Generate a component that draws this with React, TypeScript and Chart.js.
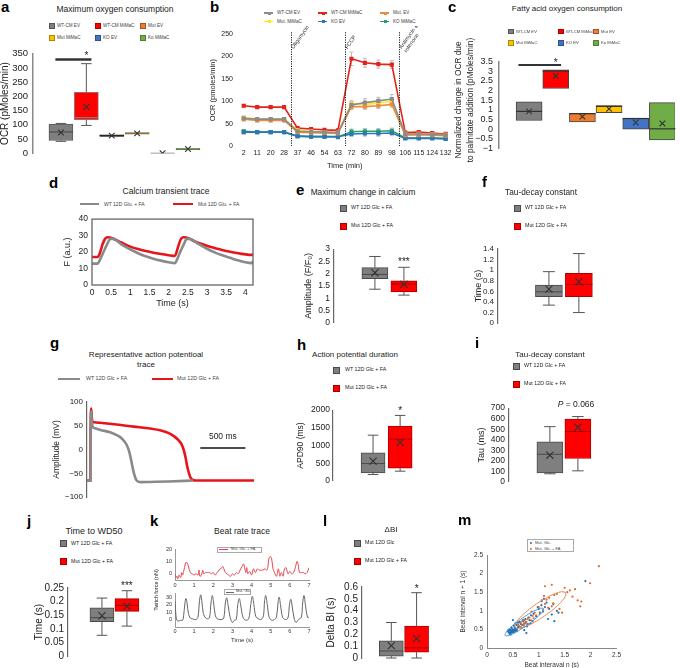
import React, { useEffect, useRef } from 'react';
import { Chart, registerables } from 'chart.js';
Chart.register(...registerables);

const FONT = '"Liberation Sans", Arial, Helvetica, sans-serif';
Chart.defaults.font.family = FONT;
Chart.defaults.color = '#222';

// ---------------- DATA ----------------
// a: Maximum oxygen consumption (box stats per group)
const aGroups = ['WT-CM EV', 'WT-CM MiMaC', 'Mut EV', 'Mut MiMaC', 'KO EV', 'Ko MiMaC'];
const aX = [1, 2, 3, 4, 5, 6];
const aMin = [42, 98, 59.5, 67.5, 0, 13];
const aQ1 = [45, 118, 59.5, 67.5, 0, 13];
const aMed = [75, 125, 62, 70, 0.5, 15];
const aQ3 = [103, 214, 64.5, 72.5, 1, 17];
const aMax = [105, 315, 64.5, 72.5, 1, 17];
const aMean = [73, 163, 62, 70, 0.5, 15];

// b: OCR time course
const bTimes = ['2', '11', '20', '28', '37', '46', '54', '63', '72', '80', '89', '98', '106', '115', '124', '132'];
const bWtEv = [62, 60, 60, 60, 33, 32, 31, 30, 92, 97, 101, 105, 27, 27, 26, 25];
const bWtMimac = [90, 87, 87, 87, 40, 38, 36, 35, 195, 186, 183, 182, 30, 31, 29, 27];
const bMutEv = [60, 57, 57, 57, 31, 30, 29, 28, 88, 88, 90, 93, 24, 25, 24, 23];
const bMutMimac = [63, 60, 60, 60, 35, 33, 31, 30, 95, 93, 96, 100, 27, 27, 26, 25];
const bKoEv = [31, 31, 31, 31, 22, 21, 21, 21, 27, 28, 28, 29, 17, 17, 17, 16];
const bKoMimac = [33, 31, 31, 31, 22, 21, 21, 20, 32, 33, 33, 34, 18, 18, 18, 17];
const bErrRed = [3, 3, 3, 3, 2, 2, 2, 2, 15, 10, 9, 9, 2, 2, 2, 2];
const bErrGray = [3, 3, 3, 3, 2, 2, 2, 2, 8, 9, 8, 10, 2, 2, 2, 2];
const bErrOther = [4, 3, 3, 3, 2, 2, 2, 2, 6, 6, 6, 6, 2, 2, 2, 2];
const bEventAt = [3.5, 7.5, 11.5];
const bEventLabels = [['Oligomycin'], ['FCCP'], ['Antimycin &', 'rotenone']];

// c: Fatty acid oxygen consumption
const cX = [1, 2, 3, 4, 5, 6];
const cQ1 = [0.45, 2.1, 0.38, 0.86, 0.0, -0.55];
const cMed = [0.92, 3.0, 0.8, 1.18, 0.55, 0.02];
const cQ3 = [1.42, 3.06, 0.82, 1.22, 0.58, 1.37];
const cMean = [0.92, 2.75, 0.65, 1.05, 0.35, 0.3];

// d: calcium transient trace
const dWtT = [0, 0.15, 0.2, 0.3, 0.4, 0.48, 0.55, 0.65, 0.75, 0.9, 1.05, 1.2, 1.4, 1.6, 1.8, 2.0, 2.16, 2.2, 2.3, 2.4, 2.47, 2.55, 2.65, 2.8, 3.0, 3.2, 3.4, 3.6, 3.8, 4.0, 4.17, 4.2];
const dWtF = [13, 13, 15, 20, 25, 28, 28, 26.8, 25, 22.8, 21, 19.3, 17.5, 16, 14.8, 13.8, 13.2, 14.5, 20, 25, 28, 28, 26.8, 24.6, 22, 19.8, 18, 16.5, 15, 13.8, 13.3, 14.5];
const dMutT = [0, 0.15, 0.2, 0.28, 0.35, 0.4, 0.47, 0.55, 0.7, 0.85, 1.0, 1.2, 1.4, 1.6, 1.8, 2.0, 2.16, 2.2, 2.27, 2.33, 2.39, 2.46, 2.55, 2.7, 2.9, 3.1, 3.3, 3.5, 3.7, 3.9, 4.1, 4.17, 4.2];
const dMutF = [17, 17, 19, 25, 28.3, 29, 28.8, 28.2, 26.5, 24.8, 23.3, 21.8, 20.6, 19.6, 18.8, 18.1, 17.6, 19.5, 25, 28.3, 29, 28.8, 28, 26.3, 24.6, 23, 21.8, 20.6, 19.7, 18.9, 18.3, 18.2, 19];

// e: max change in calcium
const eMin = [1.37, 1.13], eQ1 = [1.8, 1.26], eMed = [1.97, 1.58], eQ3 = [2.25, 1.71], eMax = [2.7, 2.26], eMean = [2.04, 1.57];
// f: tau decay (s)
const fMin = [0.34, 0.2], fQ1 = [0.5, 0.5], fMed = [0.59, 0.73], fQ3 = [0.715, 0.94], fMax = [0.97, 1.31], fMean = [0.64, 0.78];
// g: action potential trace
const gWtT = [0, 38, 42, 46, 52, 62, 80, 150, 256, 330, 368, 406, 444, 465, 481, 500, 519, 540, 556, 594, 700, 900, 1177];
const gWtV = [-65, -65, 40, 80, 62, 48, 45, 41, 36, 30, 26, 19, 8, -3, -15, -33, -49, -62, -66, -68.5, -68, -67, -65];
const gMutT = [0, 36, 40, 46, 52, 62, 79, 143, 300, 519, 700, 820, 900, 970, 1010, 1045, 1070, 1090, 1110, 1130, 1150, 1177, 1200, 1850];
const gMutV = [-65, -65, 40, 86, 70, 58, 57, 56, 53, 48, 44, 40, 35, 27, 20, 12, 0, -15, -35, -50, -60, -64, -65, -65];
const gScaleBarMs = 500;
// h: APD90 (ms)
const hMin = [180, 274], hQ1 = [226, 358], hMed = [490, 1180], hQ3 = [792, 1547], hMax = [1292, 1850], hMean = [557, 1085];
// i: tau (ms)
const iMin = [77, 105], iQ1 = [86, 222], iMed = [262, 478], iQ3 = [380, 596], iMax = [524, 620], iMean = [253, 518];
// j: time to WD50 (s)
const jMin = [0.076, 0.11], jQ1 = [0.126, 0.164], jMed = [0.141, 0.186], jQ3 = [0.177, 0.211], jMax = [0.213, 0.24], jMean = [0.148, 0.183];
// k: beat rate trace
const kFaT = [0, 0.05, 0.1, 0.15, 0.2, 0.3, 0.35, 0.4, 0.45, 0.5, 0.55, 0.62, 0.7, 0.8, 0.9, 1.0, 1.1, 1.2, 1.25, 1.3, 1.38, 1.45, 1.5, 1.6, 1.7, 1.8, 1.9, 2.0, 2.1, 2.2, 2.3, 2.45, 2.5, 2.6, 2.7, 2.8, 2.9, 3.0, 3.1, 3.2, 3.3, 3.4, 3.5, 3.58, 3.65, 3.7, 3.75, 3.8, 3.9, 4.0, 4.1, 4.2, 4.3, 4.4, 4.5, 4.6, 4.7, 4.8, 4.85, 4.9, 4.98, 5.05, 5.12, 5.2, 5.3, 5.4, 5.48, 5.55, 5.65, 5.7, 5.8, 5.9, 6.0, 6.1, 6.2, 6.3, 6.38, 6.45, 6.5, 6.6, 6.7, 6.8, 6.9, 7.0];
const kFaF = [0, -3, -2, -4, -1, -3, 1, -1, 2, 5, 9, 9, 6, 1, 0, -1, 0, -1, 3, -2, -1, 3, 0, 1, 1, 1, 0, 1, -1, 1, 3, 5, 6, 2, 0, -1, -2, 0, -1, 1, 0, 3, 6, 8, 4, 1, 5, 0, 2, -1, 4, 1, 4, 3, 3, 3, 4, 3, 5, 12, 14, 12, 4, 1, -2, 4, -2, 1, -2, 3, 5, 0, 2, 0, 1, 6, 10, 6, 1, 1, 1, 0, 1, 5];
const kGlcT = [0, 0.05, 0.1, 0.2, 0.3, 0.4, 0.45, 0.52, 0.57, 0.63, 0.7, 0.8, 0.9, 1.0, 1.1, 1.2, 1.28, 1.34, 1.4, 1.48, 1.6, 1.7, 1.8, 1.88, 1.95, 2.02, 2.1, 2.2, 2.35, 2.45, 2.55, 2.63, 2.7, 2.78, 2.88, 3.0, 3.1, 3.2, 3.28, 3.36, 3.44, 3.55, 3.7, 3.85, 3.96, 4.04, 4.12, 4.22, 4.35, 4.5, 4.62, 4.68, 4.74, 4.82, 4.92, 5.05, 5.2, 5.3, 5.38, 5.44, 5.52, 5.62, 5.75, 5.9, 5.98, 6.05, 6.12, 6.22, 6.32, 6.45, 6.6, 6.67, 6.74, 6.82, 6.92, 7.0];
const kGlcF = [25, 5, -1, -2, -1, -1, 5, 22, 28, 22, 8, 2, 1, 0, 0, 3, 25, 33, 25, 8, 2, 1, 2, 22, 32, 22, 6, 1, 0, 0, 2, 22, 29, 18, 3, -4, -1, 0, 20, 28, 18, 3, -1, 1, 20, 31, 20, 4, 1, 0, 5, 25, 32, 20, 3, -1, 0, 3, 22, 30, 18, 3, 0, 2, 20, 27, 18, 2, -4, 0, 3, 22, 32, 18, 3, 3];
// l: delta BI (s)
const lMin = [0, 0], lQ1 = [0.016, 0.05], lMed = [0.059, 0.086], lQ3 = [0.145, 0.27], lMax = [0.3, 0.552], lMean = [0.105, 0.164];
// m: Poincare plot
const mGlcX = [0.40, 0.42, 0.43, 0.44, 0.45, 0.45, 0.46, 0.47, 0.48, 0.48, 0.49, 0.50, 0.50, 0.51, 0.52, 0.53, 0.54, 0.55, 0.56, 0.58, 0.60, 0.41, 0.44, 0.47, 0.52, 0.57, 0.62, 0.65, 0.63, 0.68, 0.70, 0.72, 0.74, 0.75, 0.78, 0.80, 0.82, 0.85, 0.88, 0.90, 0.95, 1.00, 1.02, 1.05, 1.08, 1.10, 1.12, 1.15, 1.20, 1.25, 1.28, 1.30, 1.35, 1.38, 0.50, 0.55, 0.66, 0.72, 0.76, 0.60, 0.98, 1.06, 1.18, 1.90, 0.46, 0.53, 0.58, 0.70, 0.77, 0.84];
const mGlcY = [0.45, 0.42, 0.50, 0.40, 0.44, 0.48, 0.43, 0.47, 0.41, 0.52, 0.45, 0.44, 0.49, 0.47, 0.42, 0.50, 0.46, 0.53, 0.48, 0.51, 0.56, 0.48, 0.38, 0.55, 0.60, 0.62, 0.58, 0.65, 0.70, 0.62, 0.72, 0.66, 0.78, 0.70, 0.64, 0.82, 0.75, 0.88, 0.72, 0.92, 0.85, 1.05, 0.95, 1.15, 0.98, 1.32, 1.10, 1.22, 1.05, 0.90, 1.18, 0.72, 1.00, 0.95, 0.75, 0.66, 0.55, 0.48, 0.40, 0.68, 1.10, 1.28, 0.78, 1.80, 0.36, 0.56, 0.45, 0.76, 0.58, 0.66];
const mFaX = [0.60, 0.63, 0.65, 0.68, 0.70, 0.72, 0.74, 0.76, 0.78, 0.80, 0.82, 0.85, 0.88, 0.90, 0.92, 0.95, 1.00, 1.02, 1.05, 1.08, 1.10, 1.12, 1.15, 1.18, 1.20, 1.25, 1.28, 1.30, 1.35, 1.40, 1.45, 1.50, 1.55, 1.60, 1.65, 1.70, 1.75, 1.80, 1.82, 2.16, 0.66, 0.71, 0.86, 1.12, 1.25, 1.99];
const mFaY = [0.62, 0.58, 0.68, 0.72, 0.62, 0.75, 0.66, 0.70, 0.78, 0.64, 0.82, 0.74, 0.86, 0.80, 0.95, 0.88, 1.10, 0.92, 1.25, 1.02, 1.40, 1.18, 1.30, 1.08, 1.35, 1.70, 1.20, 1.42, 1.45, 1.05, 0.95, 1.62, 1.50, 1.55, 1.38, 1.58, 1.28, 1.12, 1.25, 2.20, 0.55, 0.60, 0.98, 1.66, 1.12, 1.74];
const mGlcEllX = [1.088, 1.033, 0.93, 0.796, 0.649, 0.514, 0.41, 0.353, 0.352, 0.407, 0.51, 0.644, 0.791, 0.926, 1.03, 1.087, 1.088];
const mGlcEllY = [1.068, 1.067, 1.01, 0.906, 0.771, 0.624, 0.49, 0.387, 0.332, 0.333, 0.39, 0.494, 0.629, 0.776, 0.91, 1.013, 1.068];
const mFaEllX = [1.511, 1.428, 1.285, 1.103, 0.91, 0.735, 0.605, 0.54, 0.549, 0.632, 0.775, 0.957, 1.15, 1.325, 1.455, 1.52, 1.511];
const mFaEllY = [1.501, 1.51, 1.445, 1.315, 1.14, 0.947, 0.765, 0.622, 0.539, 0.53, 0.595, 0.725, 0.90, 1.093, 1.275, 1.418, 1.501];

// ---------------- helpers ----------------
const zip = (xs: number[], ys: number[]) => xs.map((x, i) => ({ x, y: ys[i] }));
const fmt = (v: number) => String(Math.round(v * 1000) / 1000).replace('-', '\u2212');

type Geo = { L: number; T: number; R: number; B: number; yW: number; xH: number; padT?: number; padR?: number };

function ChartBox({ geo, build }: { geo: Geo; build: () => any }) {
  const ref = useRef<HTMLCanvasElement | null>(null);
  const padT = geo.padT ?? 8;
  const padR = geo.padR ?? 6;
  const left = geo.L - geo.yW;
  const top = geo.T - padT;
  const w = geo.R - geo.L + geo.yW + padR;
  const h = geo.B - geo.T + padT + geo.xH;
  useEffect(() => {
    if (!ref.current) return;
    const cfg = build();
    const o = cfg.options || (cfg.options = {});
    o.animation = false;
    o.responsive = false;
    o.maintainAspectRatio = false;
    o.devicePixelRatio = 1;
    o.plugins = { ...(o.plugins || {}), legend: { display: false }, tooltip: { enabled: false } };
    Object.values(o.scales).forEach((s: any) => { s.grid = { ...(s.grid || {}), display: false, drawTicks: false }; });
    const xShown = o.scales.x.display !== false;
    o.layout = { padding: { top: padT, right: padR, left: 0, bottom: xShown ? 0 : geo.xH } };
    o.scales.y.afterFit = (s: any) => { s.width = geo.yW; };
    if (xShown) o.scales.x.afterFit = (s: any) => { s.height = geo.xH; };
    const chart = new Chart(ref.current, cfg);
    return () => chart.destroy();
  }, []);
  return <canvas ref={ref} width={w} height={h} style={{ position: 'absolute', left, top, width: w, height: h }} />;
}

type Note = { kind: 'text'; x: number; y: number; text: string; size: number } | { kind: 'bar'; x1: number; x2: number; y: number; w: number };

function boxBuild(p: any) {
  return () => ({
    type: 'bar',
    data: {
      datasets: [
        {
          type: 'bar',
          data: p.xs.map((xv: number, i: number) => ({ x: xv, y: [p.q1[i], p.q3[i]] })),
          backgroundColor: p.fill, borderColor: p.edge, borderWidth: p.bw ?? 1, borderSkipped: false,
          barThickness: p.thick, order: 2,
        },
        {
          type: 'line',
          data: p.xs.map((xv: number, i: number) => ({ x: xv, y: p.mean[i] })),
          showLine: false, pointStyle: 'crossRot', pointRadius: p.mr ?? 5,
          pointBorderColor: '#333', pointBackgroundColor: '#333', pointBorderWidth: 1.1, order: 0,
        },
      ],
    },
    options: {
      scales: {
        x: { type: 'linear', display: false, min: p.xMin, max: p.xMax, offset: false },
        y: {
          min: p.yMin, max: p.yMax,
          border: { display: true, color: p.axisColor ?? '#666', width: p.axisW ?? 1.2 },
          ticks: { stepSize: p.step, autoSkip: false, padding: p.tp ?? 4, font: { size: p.tick }, color: '#222', callback: (v: number) => fmt(v), includeBounds: false },
          title: { display: !!p.title, text: p.title || '', font: { size: p.titleSize }, padding: 0, color: '#222' },
        },
      },
    },
    plugins: [{
      id: 'boxExtras',
      afterDatasetDraw(chart: any, args: any) {
        if (args.index !== 0) return;
        const ctx = chart.ctx, sx = chart.scales.x, sy = chart.scales.y;
        const half = p.thick / 2, cap = p.cap ?? p.thick * 0.22;
        const Y = (v: number) => sy.getPixelForValue(v);
        ctx.save();
        p.xs.forEach((xv: number, i: number) => {
          const cx = sx.getPixelForValue(xv);
          ctx.lineWidth = 1;
          ctx.strokeStyle = p.whisker ?? '#555';
          ctx.beginPath();
          if (p.min[i] < p.q1[i]) {
            ctx.moveTo(cx, Y(p.q1[i])); ctx.lineTo(cx, Y(p.min[i]));
            ctx.moveTo(cx - cap, Y(p.min[i])); ctx.lineTo(cx + cap, Y(p.min[i]));
          }
          if (p.max[i] > p.q3[i]) {
            ctx.moveTo(cx, Y(p.q3[i])); ctx.lineTo(cx, Y(p.max[i]));
            ctx.moveTo(cx - cap, Y(p.max[i])); ctx.lineTo(cx + cap, Y(p.max[i]));
          }
          ctx.stroke();
          ctx.strokeStyle = p.medColor ? p.medColor[i] : p.edge[i];
          ctx.lineWidth = p.medW ?? 1;
          ctx.beginPath(); ctx.moveTo(cx - half, Y(p.med[i])); ctx.lineTo(cx + half, Y(p.med[i])); ctx.stroke();
        });
        ctx.restore();
      },
      afterDraw(chart: any) {
        const notes: Note[] = p.notes || [];
        const ctx = chart.ctx, sx = chart.scales.x, sy = chart.scales.y;
        ctx.save();
        notes.forEach((n) => {
          if (n.kind === 'bar') {
            ctx.strokeStyle = '#333'; ctx.lineWidth = n.w;
            ctx.beginPath(); ctx.moveTo(sx.getPixelForValue(n.x1), sy.getPixelForValue(n.y)); ctx.lineTo(sx.getPixelForValue(n.x2), sy.getPixelForValue(n.y)); ctx.stroke();
          } else {
            ctx.fillStyle = '#222'; ctx.font = `${n.size}px ${FONT}`; ctx.textAlign = 'center'; ctx.textBaseline = 'alphabetic';
            ctx.fillText(n.text, sx.getPixelForValue(n.x), sy.getPixelForValue(n.y) + n.size * 0.575);
          }
        });
        ctx.restore();
      },
    }],
  });
}

// ---------------- chart builders ----------------
const GRAY = '#7f7f7f', GRAY_E = '#4a4a4a', RED = '#ff0000', RED_E = '#a80000';

const buildA = boxBuild({
  xs: aX, min: aMin, q1: aQ1, med: aMed, q3: aQ3, max: aMax, mean: aMean,
  fill: ['#7f7f7f', '#ff0000', '#ed7d31', '#ffc000', '#4472c4', '#70ad47'],
  edge: ['#5a5a5a', '#9a6a6a', '#111', '#7a6b3a', '#aaa', '#4d6b30'],
  medColor: ['#444', '#8a8a8a', '#111', '#7a6b3a', '#aaa', '#4d6b30'],
  xMin: -0.1, xMax: 6.67, yMin: 0, yMax: 350, step: 50, tick: 9.5, tp: 5,
  title: 'OCR (pMoles/min)', titleSize: 10, thick: 24, mr: 4, axisColor: '#888', axisW: 1.5,
  notes: [{ kind: 'bar', x1: 0.78, x2: 2.2, y: 330, w: 2.5 }, { kind: 'text', x: 2, y: 350, text: '*', size: 10 }],
});

const buildC = boxBuild({
  xs: cX, min: cQ1, q1: cQ1, med: cMed, q3: cQ3, max: cQ3, mean: cMean,
  fill: ['#7f7f7f', '#ff0000', '#ed7d31', '#ffc000', '#4472c4', '#70ad47'],
  edge: ['#444', '#444', '#444', '#444', '#444', '#444'],
  medColor: ['#333', '#333', '#333', '#333', '#333', '#333'], medW: 1.2,
  xMin: -0.13, xMax: 6.47, yMin: -1, yMax: 3.5, step: 0.5, tick: 9, tp: 6,
  title: '', titleSize: 9, thick: 26, mr: 4,
  axisColor: '#888', axisW: 1.5,
  notes: [{ kind: 'bar', x1: 0.6, x2: 2.2, y: 3.32, w: 2 }, { kind: 'text', x: 2, y: 3.55, text: '*', size: 10 }],
});

const twoFill = [GRAY, RED], twoEdge = [GRAY_E, RED_E];
const buildE = boxBuild({
  xs: [1, 2], min: eMin, q1: eQ1, med: eMed, q3: eQ3, max: eMax, mean: eMean, fill: twoFill, edge: twoEdge,
  xMin: -0.41, xMax: 3.24, yMin: 0, yMax: 3, step: 0.5, tick: 8.5,
  title: 'Amplitude (F/F\u2080)', titleSize: 9, thick: 26,
  notes: [{ kind: 'text', x: 2, y: 2.57, text: '***', size: 10 }],
});
const buildF = boxBuild({
  xs: [1, 2], min: fMin, q1: fQ1, med: fMed, q3: fQ3, max: fMax, mean: fMean, fill: twoFill, edge: twoEdge,
  xMin: -0.7, xMax: 3.37, yMin: 0, yMax: 1.4, step: 0.2, tick: 8, tp: 4,
  title: 'Time (s)', titleSize: 9, thick: 27,
});
const buildH = boxBuild({
  xs: [1, 2], min: hMin, q1: hQ1, med: hMed, q3: hQ3, max: hMax, mean: hMean, fill: twoFill, edge: twoEdge,
  xMin: -0.48, xMax: 3.1, yMin: 0, yMax: 2000, step: 500, tick: 8.5, tp: 3,
  title: 'APD90 (ms)', titleSize: 8.5, thick: 24,
  notes: [{ kind: 'text', x: 2, y: 2048, text: '*', size: 10 }],
});
const buildI = boxBuild({
  xs: [1, 2], min: iMin, q1: iQ1, med: iMed, q3: iQ3, max: iMax, mean: iMean, fill: twoFill, edge: twoEdge,
  xMin: -0.46, xMax: 3.5, yMin: 0, yMax: 700, step: 100, tick: 8.5,
  title: 'Tau (ms)', titleSize: 9, thick: 26,
});
const buildJ = boxBuild({
  xs: [1, 2], min: jMin, q1: jQ1, med: jMed, q3: jQ3, max: jMax, mean: jMean, fill: twoFill, edge: twoEdge,
  xMin: -0.36, xMax: 2.92, yMin: 0, yMax: 0.25, step: 0.05, tick: 10,
  title: 'Time (s)', titleSize: 10, thick: 24,
  notes: [{ kind: 'text', x: 2, y: 0.267, text: '***', size: 10 }],
});
const buildL = boxBuild({
  xs: [1, 2], min: lMin, q1: lQ1, med: lMed, q3: lQ3, max: lMax, mean: lMean, fill: twoFill, edge: twoEdge,
  xMin: -0.16, xMax: 3.12, yMin: 0, yMax: 0.6, step: 0.1, tick: 10,
  title: 'Delta BI (s)', titleSize: 10, thick: 24,
  notes: [{ kind: 'text', x: 2, y: 0.608, text: '*', size: 10 }],
});

const bSeries = [
  { data: bWtEv, err: bErrGray, color: '#8c8c8c' },
  { data: bMutEv, err: bErrOther, color: '#f08a3c' },
  { data: bMutMimac, err: bErrOther, color: '#ffe81a' },
  { data: bKoEv, err: bErrOther, color: '#2a78b5' },
  { data: bKoMimac, err: bErrOther, color: '#22a36c' },
  { data: bWtMimac, err: bErrRed, color: '#e5231b' },
];
const buildB = () => ({
  type: 'line',
  data: {
    labels: bTimes,
    datasets: bSeries.map((s) => ({
      data: s.data, borderColor: s.color, backgroundColor: s.color, borderWidth: 1.6,
      pointRadius: 1.8, pointStyle: 'rect', tension: 0,
    })),
  },
  options: {
    scales: {
      x: {
        type: 'category', offset: true, border: { display: false },
        ticks: { font: { size: 7 }, padding: 3, autoSkip: false, maxRotation: 0, color: '#222' },
        title: { display: true, text: 'Time (min)', font: { size: 7.5 }, padding: 0, color: '#222' },
      },
      y: {
        min: 0, max: 250, border: { display: false },
        ticks: { stepSize: 50, font: { size: 7 }, padding: 4, color: '#222' },
        title: { display: true, text: 'OCR (pmoles/min)', font: { size: 7.5 }, padding: 0, color: '#222' },
      },
    },
  },
  plugins: [{
    id: 'bExtras',
    beforeDatasetsDraw(chart: any) {
      const ctx = chart.ctx, sx = chart.scales.x, sy = chart.scales.y;
      ctx.save(); ctx.strokeStyle = '#bdbdbd'; ctx.lineWidth = 1;
      bSeries.forEach((s) => s.data.forEach((v, i) => {
        const px = sx.getPixelForValue(i), t = sy.getPixelForValue(v + s.err[i]), b = sy.getPixelForValue(v - s.err[i]);
        ctx.beginPath(); ctx.moveTo(px, t); ctx.lineTo(px, b);
        ctx.moveTo(px - 2, t); ctx.lineTo(px + 2, t); ctx.moveTo(px - 2, b); ctx.lineTo(px + 2, b); ctx.stroke();
      }));
      ctx.restore();
    },
    afterDatasetsDraw(chart: any) {
      const ctx = chart.ctx, sx = chart.scales.x, area = chart.chartArea;
      ctx.save();
      bEventAt.forEach((at, k) => {
        const px = Math.round(sx.getPixelForValue(at)) + 0.5;
        ctx.strokeStyle = '#222'; ctx.lineWidth = 1; ctx.setLineDash([1.2, 1.2]);
        ctx.beginPath(); ctx.moveTo(px, area.top - 2); ctx.lineTo(px, area.bottom); ctx.stroke();
        ctx.setLineDash([]);
        ctx.save();
        ctx.translate(px + 2, area.top + 15);
        ctx.rotate(-0.95);
        ctx.fillStyle = '#333'; ctx.font = `5.5px ${FONT}`; ctx.textAlign = 'left'; ctx.textBaseline = 'alphabetic';
        bEventLabels[k].forEach((ln, li) => ctx.fillText(ln, 0, li * 6));
        ctx.restore();
      });
      ctx.restore();
    },
  }],
});

const buildD = () => ({
  type: 'line',
  data: {
    datasets: [
      { data: zip(dWtT, dWtF), borderColor: '#8a8a8a', borderWidth: 2.6, pointRadius: 0, cubicInterpolationMode: 'monotone' },
      { data: zip(dMutT, dMutF), borderColor: '#e8141b', borderWidth: 2.6, pointRadius: 0, cubicInterpolationMode: 'monotone' },
    ],
  },
  options: {
    scales: {
      x: {
        type: 'linear', min: 0, max: 4.2, border: { display: false },
        ticks: { stepSize: 0.5, font: { size: 8.5 }, padding: 3, autoSkip: false, includeBounds: false, maxRotation: 0, callback: (v: number) => fmt(v) },
        title: { display: true, text: 'Time (s)', font: { size: 9 }, padding: 0 },
      },
      y: {
        min: 0, max: 40, border: { display: false },
        ticks: { stepSize: 10, font: { size: 8.5 }, padding: 4 },
        title: { display: true, text: 'F (a.u.)', font: { size: 9 }, padding: 0 },
      },
    },
  },
  plugins: [{
    id: 'frame',
    afterDraw(chart: any) {
      const a = chart.chartArea, ctx = chart.ctx;
      ctx.save(); ctx.strokeStyle = '#666'; ctx.lineWidth = 1.3;
      ctx.strokeRect(a.left, a.top, a.right - a.left, a.bottom - a.top); ctx.restore();
    },
  }],
});

const buildG = () => ({
  type: 'line',
  data: {
    datasets: [
      { data: zip(gWtT, gWtV), borderColor: '#8a8a8a', borderWidth: 2.6, pointRadius: 0, cubicInterpolationMode: 'monotone' },
      { data: zip(gMutT, gMutV), borderColor: '#e8141b', borderWidth: 2.6, pointRadius: 0, cubicInterpolationMode: 'monotone' },
    ],
  },
  options: {
    scales: {
      x: { type: 'linear', display: false, min: 0, max: 1850 },
      y: {
        min: -100, max: 100, border: { display: true, color: '#666', width: 1.2 },
        ticks: { stepSize: 50, font: { size: 8 }, padding: 4, callback: (v: number) => fmt(v) },
        title: { display: true, text: 'Amplitude (mV)', font: { size: 8.5 }, padding: 0 },
      },
    },
  },
  plugins: [{
    id: 'scaleBar',
    afterDraw(chart: any) {
      const ctx = chart.ctx, sx = chart.scales.x, sy = chart.scales.y;
      const x1 = sx.getPixelForValue(1255), x2 = sx.getPixelForValue(1255 + gScaleBarMs), y = sy.getPixelForValue(3);
      ctx.save(); ctx.strokeStyle = '#111'; ctx.lineWidth = 1.5;
      ctx.beginPath(); ctx.moveTo(x1, y); ctx.lineTo(x2, y); ctx.stroke();
      ctx.fillStyle = '#222'; ctx.font = `8.5px ${FONT}`; ctx.textAlign = 'center'; ctx.textBaseline = 'middle';
      ctx.fillText(`${gScaleBarMs} ms`, (x1 + x2) / 2, y - 11);
      ctx.restore();
    },
  }],
});

const kAxis = (min: number, max: number, step: number) => ({
  min, max, border: { display: true, color: '#999', width: 1 },
  ticks: { stepSize: step, font: { size: 5.5 }, padding: 3, includeBounds: false, color: '#333' },
  afterBuildTicks: (s: any) => { s.ticks = s.ticks.filter((t: any) => t.value >= 0); },
});
const buildK1 = () => ({
  type: 'line',
  data: { datasets: [{ data: zip(kFaT, kFaF), borderColor: '#e2474f', borderWidth: 1, pointRadius: 0, tension: 0.35 }] },
  options: {
    scales: {
      x: { type: 'linear', ...kAxis(0, 7, 1), ticks: { stepSize: 1, font: { size: 5.5 }, padding: 2, includeBounds: false, color: '#333', maxRotation: 0 } },
      y: kAxis(-5, 20, 10),
    },
  },
});
const buildK2 = () => ({
  type: 'line',
  data: { datasets: [{ data: zip(kGlcT, kGlcF), borderColor: '#666', borderWidth: 1, pointRadius: 0, tension: 0.35 }] },
  options: {
    scales: {
      x: {
        type: 'linear', ...kAxis(0, 7, 1), ticks: { stepSize: 1, font: { size: 5.5 }, padding: 1, includeBounds: false, color: '#333', maxRotation: 0 },
        title: { display: true, text: 'Time (s)', font: { size: 6 }, padding: 0, color: '#333' },
      },
      y: kAxis(-10, 35, 10),
    },
  },
});

const buildM = () => ({
  type: 'scatter',
  data: {
    datasets: [
      { data: zip(mGlcEllX, mGlcEllY), showLine: true, borderColor: '#4a9ad6', borderWidth: 1, pointRadius: 0, tension: 0.4, fill: false },
      { data: zip(mFaEllX, mFaEllY), showLine: true, borderColor: '#e48a55', borderWidth: 1, pointRadius: 0, tension: 0.4, fill: false },
      { data: zip(mFaX, mFaY), pointRadius: 1.1, backgroundColor: '#dd6a2e', borderColor: '#dd6a2e', borderWidth: 0 },
      { data: zip(mGlcX, mGlcY), pointRadius: 1.1, backgroundColor: '#1f6fb5', borderColor: '#1f6fb5', borderWidth: 0 },
    ],
  },
  options: {
    scales: {
      x: {
        type: 'linear', min: 0, max: 2.5, border: { display: true, color: '#888', width: 1 },
        ticks: { stepSize: 0.5, font: { size: 6.5 }, padding: 3, maxRotation: 0, color: '#333', callback: (v: number) => fmt(v) },
        title: { display: true, text: 'Beat interaval n (s)', font: { size: 6.5 }, padding: 0, color: '#333' },
      },
      y: {
        min: 0, max: 2.5, border: { display: true, color: '#888', width: 1 },
        ticks: { stepSize: 0.5, font: { size: 6.5 }, padding: 4, color: '#333', callback: (v: number) => fmt(v) },
        title: { display: true, text: 'Beat interval n + 1 (s)', font: { size: 6.5 }, padding: 0, color: '#333' },
      },
    },
  },
});

// ---------------- HTML bits ----------------
const Txt = ({ x, y, size, children, align = 'center', style }: any) => (
  <div style={{
    position: 'absolute', left: x, top: y, fontSize: size, lineHeight: 1, whiteSpace: 'nowrap', fontFamily: FONT, color: '#222',
    transform: align === 'center' ? 'translate(-50%,-50%)' : 'translate(0,-50%)', ...style,
  }}>{children}</div>
);
const Sq = ({ x, y, s, fill, stroke }: any) => (
  <div style={{ position: 'absolute', left: x, top: y - s / 2, width: s, height: s, boxSizing: 'border-box', background: fill, border: `1px solid ${stroke}` }} />
);
const LineKey = ({ x1, x2, y, w, color }: any) => (
  <div style={{ position: 'absolute', left: x1, top: y - w / 2, width: x2 - x1, height: w, background: color }} />
);
const DotKey = ({ x, y, color }: any) => (
  <>
    <LineKey x1={x} x2={x + 9} y={y} w={1.2} color={color} />
    <div style={{ position: 'absolute', left: x + 3.5, top: y - 1.5, width: 3, height: 3, background: color }} />
  </>
);
const Letter = ({ x, y, c }: any) => (
  <div style={{ position: 'absolute', left: x, top: y, fontSize: 15, fontWeight: 700, lineHeight: '15px', fontFamily: FONT, color: '#000' }}>{c}</div>
);
const TwoLegend = ({ x, y1, y2, tx, size, s, labels }: any) => (
  <>
    <Sq x={x} y={y1} s={s} fill={GRAY} stroke={GRAY_E} />
    <Txt x={tx} y={y1} size={size} align="left">{labels[0]}</Txt>
    <Sq x={x} y={y2} s={s} fill={RED} stroke={RED_E} />
    <Txt x={tx} y={y2} size={size} align="left">{labels[1]}</Txt>
  </>
);
const VTxt = ({ x, y, size, children }: any) => (
  <div style={{
    position: 'absolute', left: x, top: y, fontSize: size, lineHeight: 1, whiteSpace: 'nowrap', fontFamily: FONT, color: '#222',
    transform: 'translate(-50%,-50%) rotate(-90deg)',
  }}>{children}</div>
);

const sixFill = ['#7f7f7f', '#ff0000', '#ed7d31', '#ffc000', '#4472c4', '#70ad47'];
const sixEdge = ['#555', '#a00', '#a0522d', '#b08800', '#2f528f', '#507e32'];

export default function App() {
  const glcFa = ['WT 12D Glc + FA', 'Mut 12D Glc + FA'];
  return (
    <div style={{ position: 'absolute', left: 0, top: 0, width: 680, height: 668, overflow: 'hidden', background: '#fff', fontFamily: FONT }}>
      {/* a */}
      <Letter x={1} y={-1} c="a" />
      <Txt x={115} y={9} size={8.5}>Maximum oxygen consumption</Txt>
      {aGroups.map((g, i) => {
        const col = i % 3, row = Math.floor(i / 3);
        const xs = [49, 95, 140];
        const y = row === 0 ? 25.5 : 37.5;
        return (
          <React.Fragment key={g}>
            <Sq x={xs[col]} y={y} s={6} fill={sixFill[i]} stroke={sixEdge[i]} />
            <Txt x={xs[col] + 8} y={y} size={4.6} align="left" style={{ color: '#444' }}>{g}</Txt>
          </React.Fragment>
        );
      })}
      <ChartBox geo={{ L: 33, T: 51, R: 205, B: 156, yW: 34, xH: 8 }} build={buildA} />

      {/* b */}
      <Letter x={210} y={-1} c="b" />
      {['WT-CM EV', 'WT-CM MiMaC', 'Mut. EV', 'Mut. MiMaC', 'KO EV', 'KO MiMaC'].map((g, i) => {
        const col = i % 3, row = Math.floor(i / 3);
        const xs = [264, 318, 380];
        const cols = ['#8c8c8c', '#e5231b', '#f08a3c', '#ffe81a', '#2a78b5', '#22a36c'];
        const y = row === 0 ? 13 : 21.5;
        return (
          <React.Fragment key={g}>
            <DotKey x={xs[col]} y={y} color={cols[i]} />
            <Txt x={xs[col] + 13} y={y} size={4.6} align="left" style={{ color: '#444' }}>{g}</Txt>
          </React.Fragment>
        );
      })}
      <ChartBox geo={{ L: 237, T: 34, R: 454, B: 146, yW: 29, xH: 24, padR: 4 }} build={buildB} />

      {/* c */}
      <Letter x={448} y={-1} c="c" />
      <Txt x={567} y={9} size={8}>Fatty acid oxygen consumption</Txt>
      {aGroups.map((g, i) => {
        const col = i % 3, row = Math.floor(i / 3);
        const xs = [508, 558, 593];
        const names = ['WT-CM EV', 'WT-CM MiMaC', 'Mut EV', 'Mut MiMaC', 'KO EV', 'Ko MiMaC'];
        const y = row === 0 ? 31.5 : 43;
        return (
          <React.Fragment key={'c' + g}>
            <Sq x={xs[col]} y={y} s={5.5} fill={sixFill[i]} stroke={sixEdge[i]} />
            <Txt x={xs[col] + 8} y={y} size={4.2} align="left" style={{ color: '#444' }}>{names[i]}</Txt>
          </React.Fragment>
        );
      })}
      <VTxt x={458} y={100} size={8.3}>Normalized change in OCR due</VTxt>
      <VTxt x={470} y={100} size={8.3}>to palmitate addition (pMoles/min)</VTxt>
      <ChartBox geo={{ L: 499, T: 58, R: 680, B: 152, yW: 25, xH: 8, padR: 0 }} build={buildC} />

      {/* d */}
      <Letter x={49} y={175} c="d" />
      <Txt x={166} y={191} size={8.5}>Calcium transient trace</Txt>
      <LineKey x1={80} x2={99} y={204} w={2.6} color="#8a8a8a" />
      <Txt x={104} y={204} size={5} align="left" style={{ color: '#444' }}>WT 12D Glu. + FA</Txt>
      <LineKey x1={173} x2={193} y={204} w={2.6} color="#e8141b" />
      <Txt x={198} y={204} size={5} align="left" style={{ color: '#444' }}>Mut 12D Glu. + FA</Txt>
      <ChartBox geo={{ L: 92, T: 218, R: 253, B: 285, yW: 30, xH: 24 }} build={buildD} />

      {/* e */}
      <Letter x={296} y={182} c="e" />
      <Txt x={363} y={192} size={8.3}>Maximum change in calcium</Txt>
      <TwoLegend x={340} y1={208} y2={226} tx={351} size={5.3} s={7} labels={glcFa} />
      <ChartBox geo={{ L: 334, T: 248, R: 440, B: 324, yW: 31, xH: 8 }} build={buildE} />

      {/* f */}
      <Letter x={482} y={174} c="f" />
      <Txt x={541} y={192} size={8.3}>Tau-decay constant</Txt>
      <TwoLegend x={514} y1={208} y2={226} tx={525} size={5.3} s={7} labels={glcFa} />
      <ChartBox geo={{ L: 498, T: 248, R: 620, B: 324, yW: 25, xH: 8 }} build={buildF} />

      {/* g */}
      <Letter x={50} y={335} c="g" />
      <Txt x={146} y={355} size={8}>Representative action potentioal</Txt>
      <Txt x={146} y={365} size={8}>trace</Txt>
      <LineKey x1={58} x2={80} y={379} w={2.6} color="#8a8a8a" />
      <Txt x={86} y={379} size={5.3} align="left" style={{ color: '#444' }}>WT 12D Glc + FA</Txt>
      <LineKey x1={152} x2={173} y={379} w={2.6} color="#e8141b" />
      <Txt x={177} y={379} size={5.3} align="left" style={{ color: '#444' }}>Mut 12D Glc + FA</Txt>
      <ChartBox geo={{ L: 87, T: 401, R: 254, B: 498, yW: 35, xH: 8 }} build={buildG} />

      {/* h */}
      <Letter x={297} y={337} c="h" />
      <Txt x={355} y={355} size={8}>Action potential duration</Txt>
      <TwoLegend x={333} y1={370} y2={388} tx={345} size={5.3} s={7} labels={glcFa} />
      <ChartBox geo={{ L: 333, T: 410, R: 430, B: 481, yW: 37, xH: 8 }} build={buildH} />

      {/* i */}
      <Letter x={475} y={335} c="i" />
      <Txt x={550} y={355} size={8}>Tau-decay constant</Txt>
      <TwoLegend x={513} y1={366} y2={384} tx={524} size={5.3} s={7} labels={glcFa} />
      <Txt x={576} y={404} size={8.5}><i>P</i> = 0.066</Txt>
      <ChartBox geo={{ L: 509, T: 407, R: 620, B: 483, yW: 33, xH: 8 }} build={buildI} />

      {/* j */}
      <Letter x={27} y={513} c="j" />
      <Txt x={94} y={531} size={9}>Time to WD50</Txt>
      <TwoLegend x={60} y1={543.5} y2={561.5} tx={71} size={5.3} s={7} labels={glcFa} />
      <ChartBox geo={{ L: 68, T: 586, R: 150, B: 658, yW: 35, xH: 8 }} build={buildJ} />

      {/* k */}
      <Letter x={150} y={513} c="k" />
      <Txt x={242} y={531} size={8.5}>Beat rate trace</Txt>
      <ChartBox geo={{ L: 175, T: 549, R: 309, B: 580, yW: 20, xH: 9 }} build={buildK1} />
      <ChartBox geo={{ L: 175, T: 593, R: 309, B: 627, yW: 20, xH: 17, padT: 6 }} build={buildK2} />
      <div style={{ position: 'absolute', left: 217, top: 546.5, width: 45, height: 6, boxSizing: 'border-box', border: '1px solid #aaa', background: '#fff' }} />
      <LineKey x1={219} x2={228} y={549.5} w={1} color="#e2474f" />
      <Txt x={231} y={549.5} size={3.8} align="left" style={{ color: '#444' }}>Mut. Glc. + FA</Txt>
      <div style={{ position: 'absolute', left: 224, top: 589, width: 27, height: 6, boxSizing: 'border-box', border: '1px solid #aaa', background: '#fff' }} />
      <LineKey x1={226} x2={234} y={592} w={1} color="#666" />
      <Txt x={236} y={592} size={3.8} align="left" style={{ color: '#444' }}>Mut. Glc.</Txt>
      <VTxt x={157} y={590} size={5.5}>Twitch force (nN)</VTxt>

      {/* l */}
      <Letter x={323} y={513} c="l" />
      <Txt x={391} y={530} size={8}>ΔBI</Txt>
      <TwoLegend x={354} y1={543} y2={561} tx={365} size={5.3} s={7} labels={['Mut 12D Glc', 'Mut 12D Glc + FA']} />
      <ChartBox geo={{ L: 362, T: 585, R: 445, B: 660, yW: 37, xH: 8 }} build={buildL} />

      {/* m */}
      <Letter x={458} y={512} c="m" />
      <ChartBox geo={{ L: 487, T: 555, R: 618, B: 648, yW: 28, xH: 21 }} build={buildM} />
      <div style={{ position: 'absolute', left: 527, top: 539, width: 47, height: 13, boxSizing: 'border-box', border: '1px solid #aaa', background: '#fff' }} />
      <div style={{ position: 'absolute', left: 530, top: 542, width: 2, height: 2, borderRadius: 1, background: '#1f6fb5' }} />
      <Txt x={535} y={543} size={4} align="left" style={{ color: '#444' }}>Mut. Glc.</Txt>
      <div style={{ position: 'absolute', left: 530, top: 547.5, width: 2, height: 2, borderRadius: 1, background: '#dd6a2e' }} />
      <Txt x={535} y={548.5} size={4} align="left" style={{ color: '#444' }}>Mut. Glc. + FA</Txt>
    </div>
  );
}
